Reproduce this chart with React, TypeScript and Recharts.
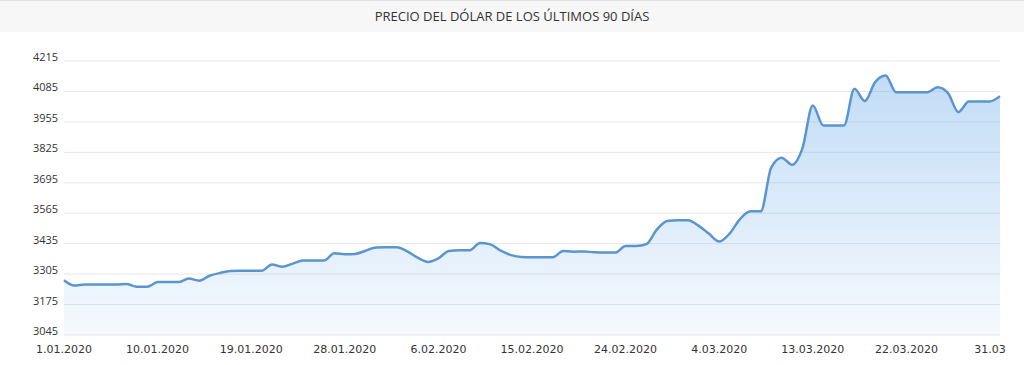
import React from "react";
import { AreaChart, Area, XAxis, YAxis, CartesianGrid } from "recharts";

const TITLE = "PRECIO DEL DÓLAR DE LOS ÚLTIMOS 90 DÍAS";

const dates: string[] = [
  "1.01.2020", "2.01.2020", "3.01.2020", "4.01.2020", "5.01.2020", "6.01.2020", "7.01.2020", "8.01.2020", "9.01.2020", "10.01.2020",
  "11.01.2020", "12.01.2020", "13.01.2020", "14.01.2020", "15.01.2020", "16.01.2020", "17.01.2020", "18.01.2020", "19.01.2020", "20.01.2020",
  "21.01.2020", "22.01.2020", "23.01.2020", "24.01.2020", "25.01.2020", "26.01.2020", "27.01.2020", "28.01.2020", "29.01.2020", "30.01.2020",
  "31.01.2020", "1.02.2020", "2.02.2020", "3.02.2020", "4.02.2020", "5.02.2020", "6.02.2020", "7.02.2020", "8.02.2020", "9.02.2020",
  "10.02.2020", "11.02.2020", "12.02.2020", "13.02.2020", "14.02.2020", "15.02.2020", "16.02.2020", "17.02.2020", "18.02.2020", "19.02.2020",
  "20.02.2020", "21.02.2020", "22.02.2020", "23.02.2020", "24.02.2020", "25.02.2020", "26.02.2020", "27.02.2020", "28.02.2020", "29.02.2020",
  "1.03.2020", "2.03.2020", "3.03.2020", "4.03.2020", "5.03.2020", "6.03.2020", "7.03.2020", "8.03.2020", "9.03.2020", "10.03.2020",
  "11.03.2020", "12.03.2020", "13.03.2020", "14.03.2020", "15.03.2020", "16.03.2020", "17.03.2020", "18.03.2020", "19.03.2020", "20.03.2020",
  "21.03.2020", "22.03.2020", "23.03.2020", "24.03.2020", "25.03.2020", "26.03.2020", "27.03.2020", "28.03.2020", "29.03.2020", "30.03.2020",
  "31.03.2020",
];

const prices: number[] = [
  3279, 3256, 3261, 3261, 3261, 3261, 3263, 3251, 3251, 3271,
  3271, 3271, 3286, 3277, 3298, 3310, 3318, 3319, 3319, 3319,
  3346, 3336, 3350, 3363, 3363, 3363, 3394, 3390, 3391, 3405,
  3419, 3420, 3420, 3402, 3375, 3357, 3372, 3404, 3407, 3407,
  3438, 3432, 3405, 3386, 3378, 3377, 3377, 3377, 3404, 3401,
  3402, 3398, 3397, 3397, 3425, 3425, 3433, 3495, 3532, 3535,
  3535, 3512, 3478, 3444, 3478, 3540, 3573, 3573, 3760, 3802,
  3772, 3842, 4025, 3940, 3940, 3940, 4096, 4044, 4125, 4153,
  4082, 4082, 4082, 4082, 4103, 4078, 3997, 4042, 4042, 4042,
  4065,
];

const xTicks: string[] = [
  "1.01.2020", "10.01.2020", "19.01.2020", "28.01.2020", "6.02.2020",
  "15.02.2020", "24.02.2020", "4.03.2020", "13.03.2020", "22.03.2020", "31.03.2020",
];
const lastTickLabel = "31.03";

const yTicks: number[] = [3045, 3175, 3305, 3435, 3565, 3695, 3825, 3955, 4085, 4215];

const data = dates.map((d, i) => ({ date: d, price: prices[i] }));

const XTick = (props: any) => {
  const { x, y, payload } = props;
  const isLast = payload.value === xTicks[xTicks.length - 1];
  const label = isLast ? lastTickLabel : payload.value;
  return (
    <text
      x={x + (isLast ? -10 : 0)}
      y={y + 10}
      textAnchor="middle"
      fontFamily="DejaVu Sans, Verdana, sans-serif"
      fontSize={11}
      fill="#333"
    >
      {label}
    </text>
  );
};

const YTick = (props: any) => {
  const { y, payload } = props;
  return (
    <text
      x={33}
      y={y}
      textAnchor="start"
      fontFamily="Open Sans, sans-serif"
      fontSize={11}
      fill="#333"
    >
      {payload.value}
    </text>
  );
};

export default function App() {
  return (
    <div style={{ position: "absolute", left: 0, top: 0, width: 1024, height: 365, background: "#fff" }}>
      <div
        style={{
          position: "absolute",
          left: 0,
          top: 0,
          width: 1024,
          height: 32,
          background: "#f7f7f7",
          borderTop: "1px solid #e2e2e2",
          boxSizing: "border-box",
          fontFamily: "Open Sans, sans-serif",
          fontSize: 13,
          color: "#333",
          textAlign: "center",
          lineHeight: "31px",
        }}
      >
        {TITLE}
      </div>
      <div style={{ position: "absolute", left: 0, top: 0 }}>
        <AreaChart
          width={1024}
          height={365}
          data={data}
          margin={{ top: 61, right: 24, bottom: 0, left: 0 }}
        >
          <defs>
            <linearGradient id="areaFill" x1="0" y1="0" x2="0" y2="1">
              <stop offset="0%" stopColor="rgb(124,181,236)" stopOpacity={0.78} />
              <stop offset="100%" stopColor="rgb(124,181,236)" stopOpacity={0.12} />
            </linearGradient>
          </defs>
          <CartesianGrid vertical={false} stroke="#e6e6e6" />
          <XAxis
            dataKey="date"
            ticks={xTicks}
            interval={0}
            axisLine={false}
            tickLine={false}
            height={30}
            tick={<XTick />}
          />
          <YAxis
            domain={[3045, 4215]}
            ticks={yTicks}
            axisLine={false}
            tickLine={false}
            width={64}
            tick={<YTick />}
          />
          <Area
            type="monotone"
            dataKey="price"
            stroke="#5a95cf"
            strokeWidth={2.5}
            fill="url(#areaFill)"
            baseValue={3045}
            isAnimationActive={false}
            dot={false}
            activeDot={false}
          />
        </AreaChart>
      </div>
    </div>
  );
}
